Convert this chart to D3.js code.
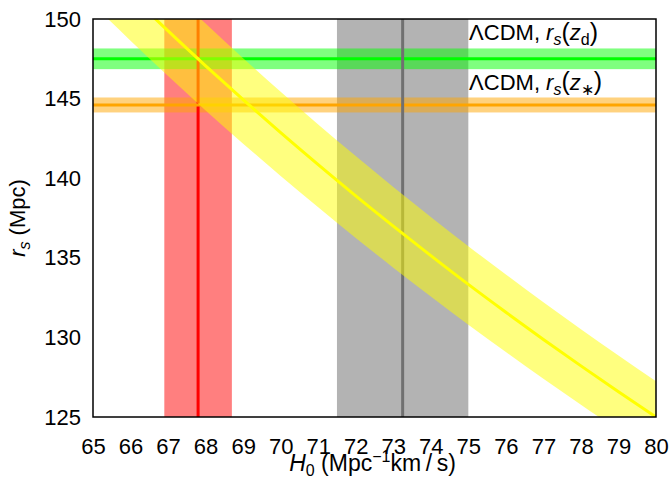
<!DOCTYPE html>
<html>
<head>
<meta charset="utf-8">
<script src="https://cdn.jsdelivr.net/npm/d3@7"></script>
<style>
  body { margin: 0; background: #fff; }
  text { font-family: "Liberation Sans", Arial, Helvetica, sans-serif; }
</style>
</head>
<body>
<svg width="671" height="483"></svg>
<script>
// H0 grid and the r_s band
const h0Grid = [65, 66, 67, 68, 69, 70, 71, 72, 73, 74, 75, 76, 77, 78, 79, 80];
const rsFit = [153.85, 151.52, 149.25, 147.06, 144.93, 142.86, 140.85, 138.89, 136.99, 135.14, 133.33, 131.58, 129.87, 128.21, 126.58, 125.0];
const rsFitLow = [150.92, 148.64, 146.42, 144.26, 142.17, 140.14, 138.17, 136.25, 134.38, 132.57, 130.80, 129.08, 127.40, 125.77, 124.18, 122.63];
const rsFitHigh = [156.62, 154.24, 151.94, 149.71, 147.54, 145.43, 143.38, 141.39, 139.45, 137.57, 135.73, 133.95, 132.21, 130.51, 128.86, 127.25];

// vertical bands: H0 value and half width
const planckH0 = [67.8, 0.9];
const shoesH0 = [73.25, 1.75];
// horizontal bands: r_s value and half width
const rsDrag = [147.5, 0.65];
const rsStar = [144.6, 0.47];

const xTicks = [65, 66, 67, 68, 69, 70, 71, 72, 73, 74, 75, 76, 77, 78, 79, 80];
const yTicks = [125, 130, 135, 140, 145, 150];

const svg = d3.select('svg');
const width = +svg.attr('width');
const height = +svg.attr('height');
const margin = {left: 93, top: 19, right: 15, bottom: 66};
const innerWidth = width - margin.left - margin.right;
const innerHeight = height - margin.top - margin.bottom;
const fs = 22;

const xScale = d3.scaleLinear().domain([65, 80]).range([0, innerWidth]);
const yScale = d3.scaleLinear().domain([125, 150]).range([innerHeight, 0]);

const g = svg.append('g').attr('transform', `translate(${margin.left},${margin.top})`);

g.append('clipPath').attr('id', 'plotclip')
  .append('rect').attr('width', innerWidth).attr('height', innerHeight);

const plot = g.append('g').attr('clip-path', 'url(#plotclip)');

const vband = (b, fill, op) => plot.append('rect')
  .attr('x', xScale(b[0] - b[1])).attr('y', 0)
  .attr('width', xScale(b[0] + b[1]) - xScale(b[0] - b[1]))
  .attr('height', innerHeight)
  .attr('fill', fill).attr('fill-opacity', op);
const hband = (b, fill, op) => plot.append('rect')
  .attr('x', 0).attr('y', yScale(b[0] + b[1]))
  .attr('width', innerWidth)
  .attr('height', yScale(b[0] - b[1]) - yScale(b[0] + b[1]))
  .attr('fill', fill).attr('fill-opacity', op);
const vline = (b, col) => plot.append('line')
  .attr('x1', xScale(b[0])).attr('x2', xScale(b[0]))
  .attr('y1', 0).attr('y2', innerHeight)
  .attr('stroke', col).attr('stroke-width', 3);
const hline = (b, col) => plot.append('line')
  .attr('x1', 0).attr('x2', innerWidth)
  .attr('y1', yScale(b[0])).attr('y2', yScale(b[0]))
  .attr('stroke', col).attr('stroke-width', 3);

vband(planckH0, '#ff0000', 0.5);
vband(shoesH0, '#b3b3b3', 1);
hband(rsDrag, '#00ff00', 0.5);
hband(rsStar, '#ffa500', 0.5);
vline(planckH0, '#ff0000');
hline(rsDrag, '#00ff00');
hline(rsStar, '#ffa500');
vline(shoesH0, '#707070');

const fit = h0Grid.map((h, i) => ({h, c: rsFit[i], lo: rsFitLow[i], hi: rsFitHigh[i]}));

plot.append('path').datum(fit)
  .attr('d', d3.area().curve(d3.curveMonotoneX)
    .x(d => xScale(d.h)).y0(d => yScale(d.lo)).y1(d => yScale(d.hi)))
  .attr('fill', '#ffff00').attr('fill-opacity', 0.5);
plot.append('path').datum(fit)
  .attr('d', d3.line().curve(d3.curveMonotoneX)
    .x(d => xScale(d.h)).y(d => yScale(d.c)))
  .attr('fill', 'none').attr('stroke', '#ffff00').attr('stroke-width', 3);

// band labels
const addLabel = (rs, sub) => {
  const t = g.append('text')
    .attr('x', xScale(75.02)).attr('y', yScale(rs))
    .attr('font-size', fs).attr('fill', '#000');
  t.append('tspan').text('\u039BCDM, ');
  t.append('tspan').attr('font-style', 'italic').text('r');
  t.append('tspan').attr('font-style', 'italic').attr('font-size', 16).attr('dy', 5).text('s');
  t.append('tspan').attr('dy', -5).attr('font-size', 25).text('(');
  t.append('tspan').attr('font-style', 'italic').text('z');
  t.append('tspan').attr('font-size', 16).attr('dy', 5).text(sub);
  t.append('tspan').attr('dy', -5).attr('font-size', 25).text(')');
};
addLabel(148.65, 'd');
addLabel(145.55, '\u2217');

// axes
const xAxis = g.append('g').attr('transform', `translate(0,${innerHeight})`)
  .call(d3.axisBottom(xScale).tickValues(xTicks).tickSize(0).tickPadding(21).tickFormat(d3.format('d')));
const yAxis = g.append('g')
  .call(d3.axisLeft(yScale).tickValues(yTicks).tickSize(0).tickPadding(12).tickFormat(d3.format('d')));
[xAxis, yAxis].forEach(a => {
  a.select('.domain').remove();
  a.attr('font-size', fs).attr('font-family', null);
  a.selectAll('text').attr('fill', '#000');
});

g.append('rect').attr('width', innerWidth).attr('height', innerHeight)
  .attr('fill', 'none').attr('stroke', '#000').attr('stroke-width', 1.5);

// axis titles
const xt = svg.append('text').attr('x', margin.left + innerWidth / 2 - 2).attr('y', 471)
  .attr('text-anchor', 'middle').attr('font-size', 23);
xt.append('tspan').attr('font-style', 'italic').text('H');
xt.append('tspan').attr('font-size', 16).attr('dy', 5).text('0');
xt.append('tspan').attr('dy', -5).text(' (Mpc');
xt.append('tspan').attr('font-size', 16).attr('dy', -9).text('\u22121');
xt.append('tspan').attr('dy', 9).text('km\u2009/\u2009s)');

const yt = svg.append('text')
  .attr('transform', `translate(25,${margin.top + innerHeight / 2}) rotate(-90)`)
  .attr('text-anchor', 'middle').attr('font-size', fs);
yt.append('tspan').attr('font-style', 'italic').text('r');
yt.append('tspan').attr('font-style', 'italic').attr('font-size', 16).attr('dy', 5).text('s');
yt.append('tspan').attr('dy', -5).text(' (Mpc)');
</script>
</body>
</html>
